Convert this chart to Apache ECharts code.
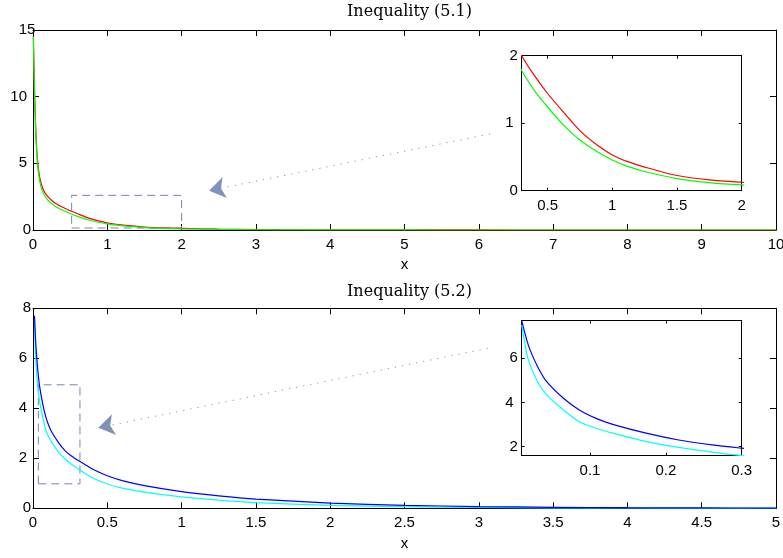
<!DOCTYPE html>
<html><head><meta charset="utf-8">
<script src="https://cdn.jsdelivr.net/npm/echarts@6/dist/echarts.min.js"></script>
<style>html,body{margin:0;padding:0;background:#fff}#c{width:783px;height:558px}</style>
</head><body><div id="c"></div>
<script>
// ---- data ----
const topX   = [0.005,0.01,0.015,0.02,0.03,0.04,0.05,0.06,0.08,0.1,0.13,0.16,0.2,0.25,0.3,0.4,0.5,0.62,0.75,0.88,1.0,1.12,1.25,1.5,1.75,2.0,2.5,3,3.5,4,5,6,7,8,9,10];
const redY   = [14.5,13.1,11.8,10.6,8.7,7.2,6.1,5.3,4.3,3.7,3.15,2.8,2.5,2.23,2.0,1.70,1.44,1.17,0.89,0.68,0.53,0.43,0.35,0.225,0.16,0.124,0.065,0.035,0.02,0.012,0.005,0.002,0.001,0,0,0];
const greenY = [14.5,12.9,11.5,10.3,8.4,6.9,5.8,5.0,4.0,3.4,2.88,2.55,2.25,2.0,1.78,1.48,1.24,0.98,0.75,0.58,0.455,0.36,0.285,0.18,0.12,0.085,0.04,0.02,0.012,0.007,0.003,0.001,0,0,0,0];
const botX   = [0.01,0.0166,0.021,0.032,0.043,0.065,0.086,0.108,0.13,0.174,0.217,0.261,0.3,0.4,0.5,0.6,0.75,1.0,1.25,1.5,2,2.5,3,3.5,4,4.5,5];
const blueY  = [7.7,6.83,6.38,5.55,4.94,4.19,3.66,3.28,3.01,2.61,2.30,2.08,1.93,1.57,1.30,1.11,0.91,0.67,0.50,0.37,0.21,0.12,0.07,0.04,0.025,0.015,0.01];
const cyanY  = [7.51,6.22,5.70,4.87,4.34,3.66,3.13,2.83,2.61,2.23,1.97,1.75,1.59,1.22,0.97,0.81,0.65,0.46,0.33,0.23,0.12,0.065,0.035,0.02,0.012,0.007,0.004];
const titles = ['Inequality (5.1)', 'Inequality (5.2)'];
const inset1XTicks = [0.5,1,1.5,2];
const inset2XTicks = [0.1,0.2,0.3];
const inset2YTicks = [2,4,6];
// zoom boxes and arrows (annotation geometry in data units)
const box1 = [[0.52,0.15],[2.0,2.6]];
const box2 = [[0.036,0.98],[0.316,4.94]];
const arrow1 = [[6.15,7.2],[2.37,2.95]];
const arrow2 = [[3.06,6.4],[0.44,3.22]];

const pairs = (xs, ys) => xs.map((x,i)=>[x, ys[i]]);
const FONT = 'Liberation Sans';

function axis(grid, pos, min, max, o) {
  o = o || {};
  const a = {
    type: 'value', gridIndex: grid, position: pos, min: min, max: max,
    axisLine: {show: true, onZero: false, lineStyle: {color: '#000', width: 1}},
    axisTick: {show: true, inside: true, length: o.tick || 6, lineStyle: {color: '#000', width: 1}},
    axisLabel: {show: !!o.labels, color: '#000', fontSize: 15, fontFamily: FONT, margin: o.margin || 7,
                showMinLabel: true, showMaxLabel: true, alignMinLabel: 'center', alignMaxLabel: 'center',
                hideOverlap: false},
    splitLine: {show: false}
  };
  if (o.interval != null) a.interval = o.interval;
  if (o.custom) { a.axisTick.customValues = o.custom; a.axisLabel.customValues = o.custom; }
  if (o.name) { a.name = o.name; a.nameLocation = 'middle'; a.nameGap = o.nameGap;
    a.nameTextStyle = {color: '#000', fontSize: 15, fontFamily: FONT}; }
  return a;
}

const xAxes = [
  axis(0,'bottom',0,10,{labels:true,interval:1,name:'x',nameGap:27}),
  axis(0,'top',0,10,{interval:1}),
  axis(1,'bottom',0.3,2,{labels:true,custom:inset1XTicks,tick:3,margin:8}),
  axis(1,'top',0.3,2,{custom:inset1XTicks,tick:3}),
  axis(2,'bottom',0,5,{labels:true,interval:0.5,name:'x',nameGap:28}),
  axis(2,'top',0,5,{interval:0.5}),
  axis(3,'bottom',0.01,0.3,{labels:true,custom:inset2XTicks,tick:3,margin:8}),
  axis(3,'top',0.01,0.3,{custom:inset2XTicks,tick:3})
];
const yAxes = [
  axis(0,'left',0,15,{labels:true,interval:5,margin:6}),
  axis(0,'right',0,15,{interval:5}),
  axis(1,'left',0,2,{labels:true,interval:1,tick:3,margin:8}),
  axis(1,'right',0,2,{interval:1,tick:3}),
  axis(2,'left',0,8,{labels:true,interval:2,margin:6}),
  axis(2,'right',0,8,{interval:2}),
  axis(3,'left',1.59,7.7,{labels:true,custom:inset2YTicks,tick:3,margin:8}),
  axis(3,'right',1.59,7.7,{custom:inset2YTicks,tick:3})
];

function annot(box, arrow) {
  return {
    markArea: {silent: true, label: {show: false},
      itemStyle: {color: 'rgba(0,0,0,0)', borderColor: '#7486ae', borderWidth: 1, borderType: [8,5]},
      data: [[{coord: box[0]}, {coord: box[1]}]]},
    markLine: {silent: true, symbol: ['none','arrow'], symbolSize: 16, label: {show: false},
      lineStyle: {color: '#8192ba', width: 1, type: [1.2,6]},
      emphasis: {disabled: true},
      data: [[{coord: arrow[0]}, {coord: arrow[1], itemStyle: {color: '#5a6b96'}}]]}
  };
}

function line(data, color, xi, yi, extra) {
  return Object.assign({
    type: 'line', data: data, xAxisIndex: xi, yAxisIndex: yi, showSymbol: false, symbol: 'none',
    smooth: 0.25, clip: true, silent: true,
    lineStyle: {color: color, width: 1.2}, itemStyle: {color: color}
  }, extra || {});
}

const red = pairs(topX, redY), green = pairs(topX, greenY);
const blue = pairs(botX, blueY), cyan = pairs(botX, cyanY);

const option = {
  animation: false,
  backgroundColor: '#fff',
  title: [
    {text: titles[0], left: 404.5, textAlign: 'center', top: -1,
     textStyle: {fontFamily: 'DejaVu Serif', fontWeight: 'normal', fontSize: 16, color: '#000'}},
    {text: titles[1], left: 404.5, textAlign: 'center', top: 279,
     textStyle: {fontFamily: 'DejaVu Serif', fontWeight: 'normal', fontSize: 16, color: '#000'}}
  ],
  grid: [
    {left: 33, top: 30, width: 743, height: 200, outerBoundsMode: 'none'},
    {left: 521.7, top: 55.7, width: 220, height: 135, show: true, backgroundColor: '#fff', borderWidth: 0, outerBoundsMode: 'none'},
    {left: 33, top: 308.3, width: 743, height: 200, outerBoundsMode: 'none'},
    {left: 521.7, top: 320.7, width: 220, height: 135, show: true, backgroundColor: '#fff', borderWidth: 0, outerBoundsMode: 'none'}
  ],
  xAxis: xAxes,
  yAxis: yAxes,
  series: [
    line(red, '#ff0000', 0, 0, annot(box1, arrow1)),
    line(green, '#00ff00', 0, 0),
    line(red, '#ff0000', 2, 2),
    line(green, '#00ff00', 2, 2),
    line(cyan, '#00ffff', 4, 4, annot(box2, arrow2)),
    line(blue, '#0000ff', 4, 4),
    line(cyan, '#00ffff', 6, 6),
    line(blue, '#0000ff', 6, 6)
  ]
};
const chart = echarts.init(document.getElementById('c'), null, {renderer: 'canvas'});
chart.setOption(option);
</script></body></html>
